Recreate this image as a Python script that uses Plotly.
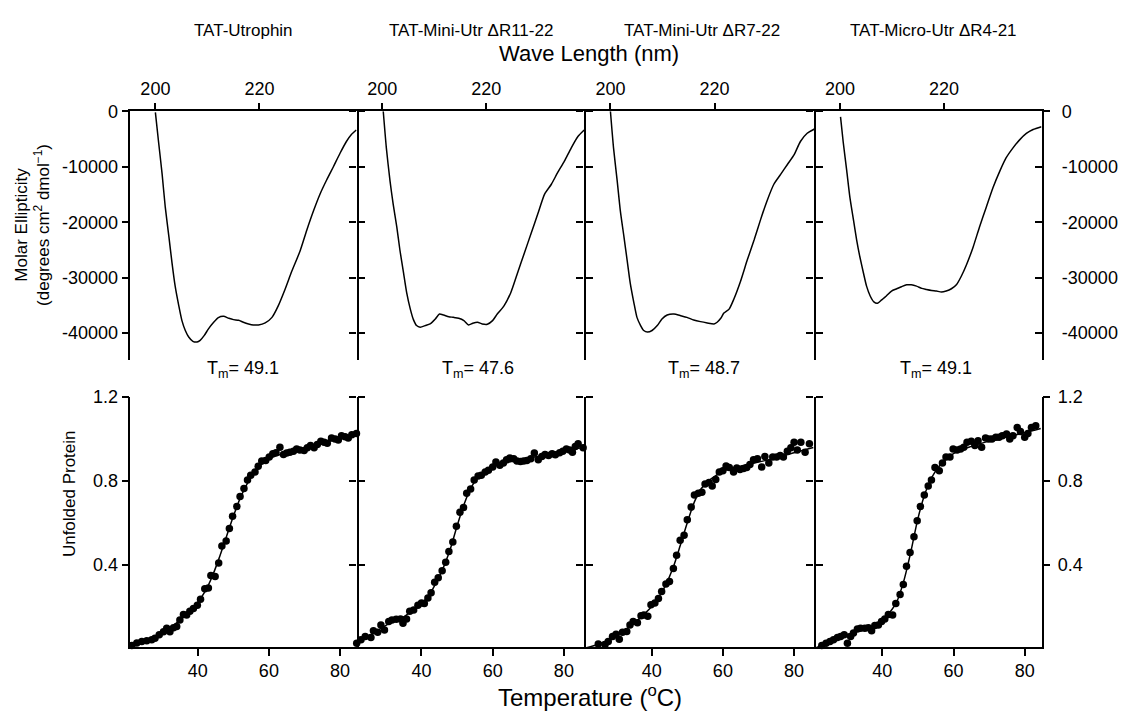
import plotly.graph_objects as go

W, H = 1123, 712

# ---------------- data: CD spectra (wavelength nm, molar ellipticity) ----------------
wl1 = [200.0, 200.6, 201.3, 201.9, 202.6, 203.2, 203.8, 204.5, 205.1, 205.75, 206.4, 207.2, 208.0, 208.6,
       209.4, 210.2, 211.2, 212.1, 213.1, 214.1, 215.0, 216.0, 216.9, 217.9, 218.8, 219.8, 221.1, 222.4,
       223.6, 224.9, 226.2, 227.8, 229.1, 230.4, 231.6, 232.9, 234.2, 235.5, 236.7, 237.7, 238.6]
cd1 = [-200, -5450, -11380, -17300, -22640, -27380, -31530, -35080, -37750, -39530, -40710, -41480, -41600,
       -41300, -40410, -39230, -38040, -37210, -36980, -37330, -37570, -37690, -38040, -38340, -38520, -38520,
       -38160, -37160, -35080, -32120, -28860, -25200, -21400, -17900, -15000, -12400, -10000, -7530, -5450,
       -4150, -3380]

wl2 = [200.2, 200.8, 201.5, 202.1, 202.8, 203.4, 204.1, 204.7, 205.4, 206.0, 206.6, 207.3, 208.3, 209.2,
       210.2, 211.0, 211.8, 212.8, 213.7, 214.7, 215.7, 216.6, 217.4, 218.3, 219.2, 220.2, 221.2, 222.1,
       223.4, 224.7, 226.0, 227.3, 228.6, 229.9, 231.2, 232.5, 233.7, 235.0, 236.3, 237.6, 238.8]
cd2 = [0, -6640, -12560, -16710, -20860, -25010, -29160, -32710, -35670, -37570, -38640, -38930, -38640,
       -38340, -37450, -36560, -36740, -37040, -37160, -37330, -37750, -38520, -38220, -38040, -38340, -38400,
       -37750, -36560, -35080, -32710, -29160, -25600, -22040, -18490, -14930, -13160, -11080, -9010, -6640,
       -4560, -3380]

wl3 = [200.0, 200.6, 201.3, 201.9, 202.6, 203.2, 203.8, 204.5, 205.1, 205.8, 206.4, 207.1, 208.0, 209.0,
       209.9, 210.9, 212.2, 213.5, 214.7, 216.0, 217.3, 218.6, 219.9, 220.5, 221.2, 221.8, 222.8, 223.7,
       225.0, 226.3, 227.6, 228.8, 230.1, 231.4, 232.7, 234.0, 235.3, 236.5, 237.8, 239.2]
cd3 = [0, -6640, -12560, -17900, -22640, -26790, -30930, -34490, -37160, -38640, -39530, -39820, -39530,
       -38640, -37450, -36740, -36560, -36860, -37160, -37630, -37930, -38160, -38340, -38040, -37330, -36390,
       -35670, -33900, -30640, -26790, -23230, -19670, -16120, -13160, -11380, -9600, -7820, -5450, -3970,
       -3200]

wl4 = [200.1, 200.6, 201.3, 201.9, 202.6, 203.2, 203.8, 204.5, 205.1, 205.8, 206.5, 207.2, 208.0, 208.9,
       209.9, 210.9, 211.8, 212.8, 213.7, 214.7, 215.7, 216.6, 217.6, 218.5, 219.5, 220.4, 221.4, 222.4,
       223.3, 224.3, 225.6, 226.8, 228.1, 229.4, 230.7, 231.9, 233.2, 234.5, 235.8, 237.1, 238.7]
cd4 = [-1000, -5450, -10790, -15530, -19670, -23230, -26190, -29160, -31530, -33300, -34370, -34610, -34010,
       -33300, -32410, -32000, -31640, -31290, -31290, -31530, -31940, -32120, -32300, -32410, -32590, -32410,
       -32000, -31230, -29750, -27670, -24410, -20860, -17300, -13750, -10790, -8410, -6640, -5160, -4000,
       -3300, -2790]

# ---------------- data: thermal melts (temperature C, unfolded fraction) ----------------
t1 = [21.5, 22.9, 24.3, 25.7, 27.1, 28.0, 29.2, 30.4, 31.3, 32.2, 33.2, 34.1, 35.0, 36.0, 36.9, 37.8, 38.8,
      39.9, 40.8, 42.0, 43.0, 43.7, 44.9, 45.9, 46.8, 48.0, 48.9, 49.8, 51.0, 51.9, 53.0, 54.0, 54.9, 56.1,
      57.0, 58.0, 59.1, 60.1, 61.1, 62.0, 63.1, 64.1, 65.0, 65.9, 66.9, 67.8, 68.7, 69.9, 70.8, 71.7, 72.7,
      73.6, 74.6, 75.5, 76.4, 77.6, 78.6, 79.5, 80.4, 81.4, 82.3, 83.3, 84.6]
u1 = [0.014, 0.026, 0.033, 0.036, 0.041, 0.049, 0.065, 0.080, 0.096, 0.080, 0.099, 0.104, 0.136, 0.162,
      0.159, 0.178, 0.191, 0.206, 0.235, 0.285, 0.288, 0.348, 0.343, 0.408, 0.489, 0.513, 0.573, 0.631, 0.678,
      0.725, 0.764, 0.804, 0.827, 0.843, 0.870, 0.895, 0.898, 0.914, 0.930, 0.934, 0.961, 0.926, 0.933, 0.937,
      0.942, 0.953, 0.948, 0.945, 0.958, 0.969, 0.958, 0.974, 0.989, 0.985, 0.980, 1.005, 1.000, 0.996, 1.016,
      1.011, 1.005, 1.021, 1.027]
ft1 = [21.0, 25, 30, 35, 38, 40, 42, 44, 46, 48, 50, 52, 54, 56, 58, 60, 62, 65, 70, 75, 80, 84.7]
fu1 = [0.010, 0.030, 0.070, 0.135, 0.185, 0.220, 0.270, 0.340, 0.430, 0.530, 0.630, 0.720, 0.790, 0.845,
       0.880, 0.905, 0.920, 0.935, 0.955, 0.980, 1.005, 1.025]

t2 = [21.8, 23.0, 24.2, 25.8, 26.5, 27.7, 28.6, 29.6, 30.8, 31.7, 32.9, 34.1, 34.8, 35.8, 36.7, 37.8, 39.0,
      40.0, 40.8, 41.8, 42.7, 43.7, 44.7, 45.8, 46.8, 47.7, 48.8, 49.8, 50.8, 51.8, 52.7, 53.8, 54.8, 55.9,
      56.8, 57.9, 58.8, 60.0, 60.9, 62.0, 63.0, 63.9, 64.8, 65.9, 66.8, 67.8, 68.7, 69.6, 70.7, 71.7, 72.8,
      73.8, 74.7, 75.7, 76.7, 77.6, 78.8, 79.7, 80.7, 81.6, 82.4, 83.2, 84.0, 85.4]
u2 = [0.025, 0.041, 0.057, 0.052, 0.084, 0.077, 0.112, 0.088, 0.128, 0.136, 0.139, 0.140, 0.120, 0.140,
      0.178, 0.183, 0.206, 0.217, 0.214, 0.241, 0.266, 0.316, 0.337, 0.371, 0.411, 0.463, 0.508, 0.584, 0.650,
      0.673, 0.741, 0.761, 0.804, 0.823, 0.827, 0.843, 0.851, 0.867, 0.890, 0.875, 0.886, 0.901, 0.909, 0.906,
      0.895, 0.893, 0.895, 0.898, 0.906, 0.933, 0.901, 0.917, 0.926, 0.922, 0.930, 0.925, 0.934, 0.942, 0.953,
      0.948, 0.937, 0.964, 0.977, 0.958]
ft2 = [21.8, 25, 30, 35, 38, 40, 42, 44, 46, 48, 50, 52, 54, 56, 58, 60, 62, 65, 70, 75, 80, 85.9]
fu2 = [0.020, 0.055, 0.110, 0.150, 0.190, 0.215, 0.250, 0.310, 0.380, 0.470, 0.585, 0.690, 0.770, 0.820,
       0.848, 0.866, 0.878, 0.892, 0.908, 0.925, 0.942, 0.962]

t3 = [21.9, 25.0, 26.9, 27.8, 29.0, 30.0, 30.9, 31.8, 33.0, 33.9, 34.8, 36.0, 37.0, 37.8, 38.9, 39.8, 40.9,
      41.9, 42.8, 44.0, 45.0, 46.1, 47.0, 48.0, 49.1, 50.0, 51.1, 52.0, 53.1, 54.1, 55.0, 56.1, 57.0, 58.0,
      59.0, 60.0, 60.9, 61.8, 63.0, 63.9, 64.8, 65.8, 66.7, 67.6, 68.6, 69.7, 70.9, 71.8, 72.9, 74.0, 75.1,
      76.1, 77.0, 78.1, 79.1, 80.0, 80.9, 81.9, 83.1, 84.3]
u3 = [0.005, 0.021, 0.018, 0.033, 0.057, 0.068, 0.044, 0.077, 0.081, 0.112, 0.128, 0.123, 0.156, 0.159,
      0.154, 0.209, 0.217, 0.238, 0.272, 0.308, 0.319, 0.382, 0.445, 0.516, 0.540, 0.615, 0.675, 0.733, 0.741,
      0.746, 0.785, 0.792, 0.776, 0.807, 0.843, 0.848, 0.871, 0.864, 0.843, 0.862, 0.854, 0.859, 0.864, 0.879,
      0.901, 0.906, 0.867, 0.917, 0.886, 0.914, 0.914, 0.922, 0.914, 0.942, 0.958, 0.985, 0.948, 0.985, 0.937,
      0.977]
ft3 = [21.0, 25, 30, 35, 38, 40, 42, 44, 46, 48, 50, 52, 54, 56, 58, 60, 62, 65, 70, 75, 80, 85.4]
fu3 = [0.000, 0.020, 0.060, 0.120, 0.165, 0.200, 0.245, 0.305, 0.385, 0.490, 0.600, 0.700, 0.765, 0.800,
       0.825, 0.845, 0.858, 0.870, 0.890, 0.910, 0.935, 0.960]

t4 = [23.0, 24.2, 25.3, 26.3, 27.4, 28.3, 29.3, 30.2, 31.1, 31.9, 33.0, 33.9, 35.1, 36.1, 37.0, 37.9, 38.9,
      39.8, 40.7, 41.7, 42.9, 43.8, 45.0, 45.9, 46.8, 47.8, 48.9, 49.8, 50.7, 51.8, 52.9, 53.8, 54.8, 56.0,
      56.9, 57.9, 59.0, 59.9, 61.0, 62.0, 62.9, 63.8, 65.0, 66.0, 66.9, 67.9, 69.0, 69.9, 70.8, 71.9, 72.8,
      73.7, 74.9, 75.8, 76.7, 77.9, 78.8, 80.0, 80.9, 81.9, 83.1]
u4 = [0.014, 0.025, 0.033, 0.041, 0.052, 0.057, 0.065, 0.025, 0.057, 0.073, 0.093, 0.096, 0.096, 0.099,
      0.084, 0.109, 0.112, 0.128, 0.140, 0.162, 0.159, 0.214, 0.257, 0.305, 0.392, 0.458, 0.533, 0.610, 0.678,
      0.733, 0.776, 0.804, 0.864, 0.848, 0.886, 0.914, 0.914, 0.953, 0.948, 0.953, 0.961, 0.985, 0.989, 0.969,
      0.992, 0.961, 1.005, 1.000, 1.000, 1.008, 1.008, 1.016, 1.024, 1.000, 1.016, 1.055, 1.036, 1.008, 1.027,
      1.055, 1.063]
ft4 = [21.0, 23, 26, 30, 34, 37, 40, 42, 44, 46, 48, 50, 52, 54, 56, 58, 60, 62, 65, 70, 75, 80, 84.5]
fu4 = [0.000, 0.015, 0.040, 0.065, 0.090, 0.105, 0.130, 0.170, 0.220, 0.320, 0.460, 0.620, 0.740, 0.820,
       0.870, 0.905, 0.930, 0.948, 0.965, 0.990, 1.010, 1.030, 1.050]

titles = ["TAT-Utrophin", "TAT-Mini-Utr \u0394R11-22", "TAT-Mini-Utr \u0394R7-22", "TAT-Micro-Utr \u0394R4-21"]
tm_values = ["49.1", "47.6", "48.7", "49.1"]
wl_ticks = [200, 220]
cd_ticks = [0, -10000, -20000, -30000, -40000]
cd_labels = ["0", "-10000", "-20000", "-30000", "-40000"]
t_ticks = [40, 60, 80]
u_ticks = [0.4, 0.8, 1.2]
u_labels = ["0.4", "0.8", "1.2"]

wl_sets = [(wl1, cd1), (wl2, cd2), (wl3, cd3), (wl4, cd4)]
melt_sets = [(t1, u1, ft1, fu1), (t2, u2, ft2, fu2), (t3, u3, ft3, fu3), (t4, u4, ft4, fu4)]

# ---------------- layout geometry (pixels) ----------------
xb = [130.4, 356.7, 584.4, 814.3, 1041.5]
top_y = (102.7, 355.0)
bot_y = (392.7, 646.0)
wl_lo = [195.2, 195.1, 195.0, 195.06]
wl_scale = 5.205          # px per nm
t_lo = [21.1, 21.8, 21.1, 20.9]
t_scale = 3.56            # px per degree
cd_range = [-44850, 0]
u_range = [0.007, 1.2]

FONT = "Liberation Sans, Arial, Helvetica, sans-serif"
LW = 1.5
TICKFONT = dict(family=FONT, size=18, color="black")


def px(x):
    return x / W


def py(y):
    return 1 - y / H


fig = go.Figure()

for i in range(4):
    n = i + 1
    wl, cd = wl_sets[i]
    fig.add_trace(go.Scatter(x=wl, y=cd, mode="lines",
                             line=dict(color="black", width=1.5, shape="spline", smoothing=0.6),
                             xaxis=f"x{n}", yaxis=f"y{n}", showlegend=False, hoverinfo="skip"))
    t, u, ft, fu = melt_sets[i]
    fig.add_trace(go.Scatter(x=ft, y=fu, mode="lines",
                             line=dict(color="black", width=1.5, shape="spline", smoothing=0.8),
                             xaxis=f"x{n+4}", yaxis=f"y{n+4}", showlegend=False, hoverinfo="skip",
                             cliponaxis=False))
    fig.add_trace(go.Scatter(x=t, y=u, mode="markers", marker=dict(color="black", size=7.5),
                             xaxis=f"x{n+4}", yaxis=f"y{n+4}", showlegend=False, hoverinfo="skip",
                             cliponaxis=False))

base = dict(showline=True, linecolor="black", linewidth=LW, ticks="outside", ticklen=7, tickwidth=LW,
            tickcolor="black", showgrid=False, zeroline=False, tickfont=TICKFONT)

lay = {}
overlay_axes = []   # (axis number, x anchor)
next_id = 9
for i in range(4):
    n = i + 1
    dom = [px(xb[i]), px(xb[i + 1])]
    width_px = xb[i + 1] - xb[i]
    # wavelength axes on top
    lay[f"xaxis{n}"] = dict(base, domain=dom, anchor=f"y{n}", side="top",
                            range=[wl_lo[i], wl_lo[i] + width_px / wl_scale], tickvals=wl_ticks)
    # ellipticity axes (left side of each panel)
    lay[f"yaxis{n}"] = dict(base, domain=[py(top_y[1]), py(top_y[0])], anchor=f"x{n}", range=cd_range,
                            tickvals=cd_ticks, ticktext=cd_labels, showticklabels=(n == 1),
                            showline=(n == 1))
    # temperature axes at bottom
    lay[f"xaxis{n+4}"] = dict(base, domain=dom, anchor=f"y{n+4}", side="bottom",
                              range=[t_lo[i], t_lo[i] + width_px / t_scale], tickvals=t_ticks)
    # unfolded-fraction axes (left side of each panel)
    lay[f"yaxis{n+4}"] = dict(base, domain=[py(bot_y[1]), py(bot_y[0])], anchor=f"x{n+4}", range=u_range,
                              tickvals=u_ticks, ticktext=u_labels, showticklabels=(n == 1),
                              showline=(n == 1))

# right-hand edges of each panel (line + ticks pointing into the next panel)
for i in range(4):
    n = i + 1
    ax_id = next_id; next_id += 1
    if n < 4:
        lay[f"yaxis{ax_id}"] = dict(base, overlaying=f"y{n}", anchor=f"x{n}", side="right", range=cd_range,
                                    tickvals=cd_ticks, showticklabels=False)
    else:
        lay[f"yaxis{ax_id}"] = dict(base, overlaying=f"y{n}", anchor=f"x{n}", side="right", range=cd_range,
                                    ticks="inside", tickvals=cd_ticks, ticktext=cd_labels,
                                    ticklabelstandoff=15)
    overlay_axes.append((ax_id, f"x{n}"))
    ax_id = next_id; next_id += 1
    lay[f"yaxis{ax_id}"] = dict(base, overlaying=f"y{n+4}", anchor=f"x{n+4}", side="right", range=u_range,
                                tickvals=u_ticks, ticktext=u_labels, showticklabels=(n == 4),
                                ticklabelstandoff=4)
    overlay_axes.append((ax_id, f"x{n+4}"))

# outward tick at 0 on the far right of the top row
ax_id = next_id; next_id += 1
lay[f"yaxis{ax_id}"] = dict(base, overlaying="y4", anchor="x4", side="right", range=cd_range, showline=False,
                            tickvals=[0], showticklabels=False)
overlay_axes.append((ax_id, "x4"))

for ax_id, xa in overlay_axes:
    fig.add_trace(go.Scatter(x=[None], y=[None], xaxis=xa, yaxis=f"y{ax_id}", showlegend=False,
                             hoverinfo="skip"))

annotations = []
title_x = [243.0, 470.5, 701.8, 933.4]
tm_x = [243.0, 478.0, 704.0, 936.0]
for i in range(4):
    annotations.append(dict(text=titles[i], x=px(title_x[i]), y=py(20.5), xref="paper", yref="paper",
                            showarrow=False, xanchor="center", yanchor="middle",
                            font=dict(family=FONT, size=17, color="black")))
    annotations.append(dict(text="T<sub>m</sub>= " + tm_values[i], x=px(tm_x[i]), y=py(365), xref="paper",
                            yref="paper", showarrow=False, xanchor="center", yanchor="middle",
                            font=dict(family=FONT, size=18, color="black")))

annotations.append(dict(text="Wave Length (nm)", x=px(589), y=py(44), xref="paper", yref="paper",
                        showarrow=False, xanchor="center", yanchor="middle",
                        font=dict(family=FONT, size=22, color="black")))
annotations.append(dict(text="Temperature (<sup>o</sup>C)", x=px(590), y=py(696), xref="paper", yref="paper",
                        showarrow=False, xanchor="center", yanchor="middle",
                        font=dict(family=FONT, size=24, color="black")))
annotations.append(dict(text="Molar Ellipticity<br>(degrees cm<sup>2</sup> dmol<sup>\u22121</sup>)", x=px(33),
                        y=py(218), xref="paper", yref="paper", showarrow=False, textangle=-90,
                        xanchor="center", yanchor="middle", font=dict(family=FONT, size=17, color="black")))
annotations.append(dict(text="Unfolded Protein", x=px(69), y=py(491), xref="paper", yref="paper",
                        showarrow=False, textangle=-90, xanchor="center", yanchor="middle",
                        font=dict(family=FONT, size=17, color="black")))

fig.update_layout(width=W, height=H, margin=dict(l=0, r=0, t=0, b=0), paper_bgcolor="white",
                  plot_bgcolor="rgba(0,0,0,0)", showlegend=False, annotations=annotations, **lay)

fig.write_html("out.html", include_plotlyjs=True, full_html=True, config={"displayModeBar": False})
